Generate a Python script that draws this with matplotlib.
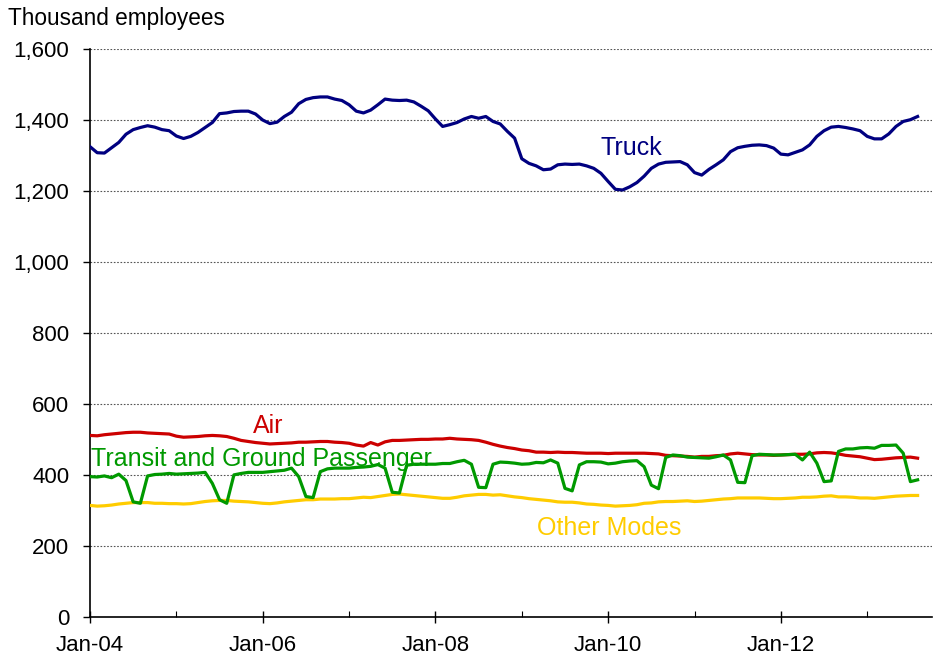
import matplotlib
matplotlib.use("Agg")
import matplotlib.pyplot as plt
from matplotlib.ticker import FuncFormatter, FixedLocator

plt.rcParams['font.family'] = ['Liberation Sans', 'DejaVu Sans']

# Monthly data, Jan 2004 - Aug 2013 (thousand employees)
truck = [1325, 1308, 1307, 1322, 1337, 1360, 1373, 1379, 1384, 1380, 1373, 1370,
         1355, 1348, 1354, 1365, 1379, 1393, 1418, 1420, 1424, 1425, 1425, 1417,
         1400, 1390, 1394, 1410, 1422, 1446, 1458, 1463, 1465, 1465, 1459, 1455,
         1443, 1425, 1420, 1428, 1443, 1459, 1456, 1455, 1456, 1451, 1439, 1426,
         1403, 1382, 1387, 1393, 1403, 1410, 1405, 1410, 1396, 1389, 1368, 1349,
         1291, 1278, 1271, 1260, 1262, 1274, 1276, 1275, 1276, 1271, 1264, 1250,
         1227, 1205, 1203, 1212, 1224, 1242, 1264, 1276, 1281, 1282, 1283, 1274,
         1252, 1245, 1261, 1274, 1288, 1311, 1322, 1326, 1329, 1330, 1328, 1321,
         1304, 1302, 1309, 1316, 1330, 1354, 1370, 1380, 1382, 1379, 1375, 1370,
         1354, 1347, 1347, 1361, 1382, 1396, 1401, 1410]

air = [512, 511, 514, 516, 518, 520, 521, 521, 519, 518, 517, 516,
       510, 507, 508, 509, 511, 512, 511, 509, 504, 498, 495, 492,
       490, 488, 489, 490, 491, 493, 493, 494, 495, 495, 493, 492,
       490, 485, 482, 492, 485, 494, 498, 498, 499, 500, 501, 501,
       502, 502, 504, 502, 501, 500, 498, 493, 487, 482, 478, 475,
       471, 469, 465, 465, 464, 465, 464, 464, 463, 462, 462, 462,
       461, 462, 462, 462, 462, 462, 461, 460, 456, 455, 454, 453,
       451, 453, 453, 455, 456, 460, 462, 460, 458, 457, 457, 456,
       457, 458, 459, 459, 460, 463, 464, 463, 460, 456, 454, 452,
       448, 444, 445, 447, 449, 450, 451, 448]

transit = [396, 395, 398, 393, 403, 385, 325, 321, 398, 402, 403, 405,
           403, 404, 405, 406, 408, 377, 331, 321, 401, 405, 408, 408,
           408, 410, 412, 414, 420, 396, 340, 337, 410, 418, 420, 420,
           420, 422, 423, 425, 430, 420, 352, 350, 428, 431, 431, 431,
           431, 433, 433, 438, 442, 431, 366, 365, 431, 437, 436, 434,
           431, 432, 436, 435, 443, 434, 363, 356, 429, 438, 438, 437,
           432, 434, 438, 440, 441, 424, 372, 362, 450, 457, 455, 451,
           450, 449, 448, 452, 457, 443, 380, 379, 455, 459, 458, 457,
           457, 458, 459, 443, 465, 434, 382, 384, 467, 474, 474, 477,
           478, 476, 484, 484, 485, 462, 382, 387]

other = [315, 313, 314, 316, 319, 321, 323, 323, 323, 321, 321, 320,
         320, 319, 320, 323, 326, 328, 329, 329, 327, 326, 325, 323,
         321, 320, 322, 325, 327, 329, 331, 331, 333, 333, 333, 334,
         334, 336, 338, 337, 340, 343, 346, 347, 345, 343, 341, 339,
         337, 335, 335, 338, 342, 344, 346, 346, 344, 345, 342, 339,
         337, 334, 332, 330, 328, 325, 324, 324, 322, 319, 318, 316,
         315, 313, 314, 315, 317, 321, 322, 325, 326, 326, 327, 328,
         326, 327, 329, 331, 333, 334, 336, 336, 336, 336, 335, 334,
         334, 335, 336, 338, 338, 339, 341, 342, 339, 339, 338, 336,
         336, 335, 337, 339, 341, 342, 343, 343]

months = list(range(len(truck)))
major_ticks = [0, 24, 48, 72, 96]
major_labels = ['Jan-04', 'Jan-06', 'Jan-08', 'Jan-10', 'Jan-12']
minor_ticks = [12, 36, 60, 84, 108]
y_ticks = [0, 200, 400, 600, 800, 1000, 1200, 1400, 1600]

c_truck = '#000080'
c_air = '#CC0000'
c_transit = '#009900'
c_other = '#FFCC00'

W, H = 934, 658
fig = plt.figure(figsize=(W / 100, H / 100), dpi=100)
ax = fig.add_axes([90 / W, (H - 617.3) / H, (932 - 90) / W, (617.3 - 49) / H])

lw = 2.3
ax.plot(months, other, color=c_other, lw=lw, solid_joinstyle='round', zorder=3)
ax.plot(months, transit, color=c_transit, lw=lw, solid_joinstyle='round', zorder=4)
ax.plot(months, air, color=c_air, lw=lw, solid_joinstyle='round', zorder=3)
ax.plot(months, truck, color=c_truck, lw=lw, solid_joinstyle='round', zorder=3)

ax.set_xlim(0, 117)
ax.set_ylim(0, 1600)

ax.yaxis.set_major_locator(FixedLocator(y_ticks))
ax.yaxis.set_major_formatter(FuncFormatter(lambda v, p: f"{int(v):,}"))
ax.set_xticks(major_ticks)
ax.set_xticklabels(major_labels)
ax.set_xticks(minor_ticks, minor=True)

ax.grid(axis='y', color='#555555', linestyle=(0, (1.5, 1.5)), linewidth=0.8, zorder=1)
ax.set_axisbelow(True)

for s in ['top', 'right']:
    ax.spines[s].set_visible(False)
for s in ['left', 'bottom']:
    ax.spines[s].set_linewidth(1.2)
    ax.spines[s].set_color('black')

ax.tick_params(axis='y', direction='out', length=5, width=1, pad=10, labelsize=16, colors='black')
ax.tick_params(axis='x', which='major', direction='inout', length=9, width=1, pad=8, labelsize=16)
ax.tick_params(axis='x', which='minor', direction='in', length=4, width=0.8)

fig.text(8 / W, 1 - 25 / H, 'Thousand employees', fontsize=16.3, ha='left', va='baseline')

ax.text(70.9, 1302, 'Truck', color=c_truck, fontsize=18, ha='left', va='baseline')
ax.text(22.6, 520, 'Air', color=c_air, fontsize=18, ha='left', va='baseline')
ax.text(0.2, 426, 'Transit and Ground Passenger', color=c_transit, fontsize=18,
        ha='left', va='baseline', zorder=5)
ax.text(62.1, 232, 'Other Modes', color=c_other, fontsize=18, ha='left', va='baseline')

fig.savefig('out.png', dpi=100)
